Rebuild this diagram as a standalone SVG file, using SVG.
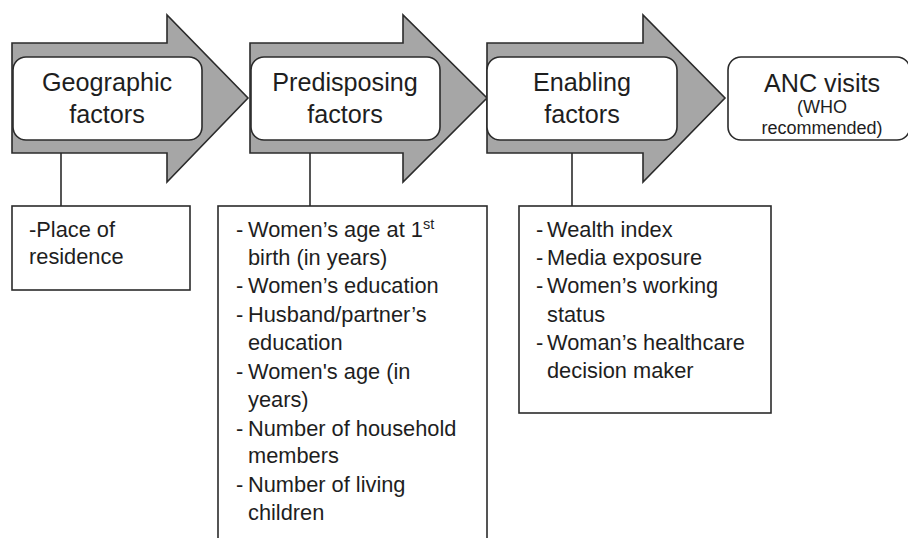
<svg xmlns="http://www.w3.org/2000/svg" width="908" height="538" viewBox="0 0 908 538">
  <style>
    .arrow { fill: #a6a6a6; stroke: #2b2b2b; stroke-width: 1.6; stroke-linejoin: miter; }
    .stage { fill: #ffffff; stroke: #2b2b2b; stroke-width: 1.6; }
    .list { fill: #ffffff; stroke: #2b2b2b; stroke-width: 1.6; }
    .link { stroke: #2b2b2b; stroke-width: 1.6; fill: none; }
    text { font-family: "Liberation Sans", Arial, sans-serif; fill: #1e1e1e; }
    .head { font-size: 25.2px; text-anchor: middle; }
    .small { font-size: 18px; text-anchor: middle; }
    .item { font-size: 21.8px; }
  </style>

  <!-- connectors from each stage to its list of variables -->
  <g id="connectors">
    <line class="link" x1="61" y1="153" x2="61" y2="206"/>
    <line class="link" x1="310" y1="153" x2="310" y2="206"/>
    <line class="link" x1="572" y1="153" x2="572" y2="206"/>
  </g>

  <g id="geographic">
    <polygon class="arrow" points="12,43 167,43 167,15 248,98 167,182 167,153 12,153"/>
    <rect class="stage" x="13" y="57" width="189" height="83" rx="13"/>
    <text class="head" x="107" y="91">Geographic</text>
    <text class="head" x="107" y="123">factors</text>
  </g>

  <g id="predisposing">
    <polygon class="arrow" points="250,43 403,43 403,15 487,98 403,182 403,153 250,153"/>
    <rect class="stage" x="251" y="57" width="189" height="83" rx="13"/>
    <text class="head" x="345" y="91">Predisposing</text>
    <text class="head" x="345" y="123">factors</text>
  </g>

  <g id="enabling">
    <polygon class="arrow" points="487,43 643,43 643,15 725,98 643,182 643,153 487,153"/>
    <rect class="stage" x="487" y="57" width="190" height="83" rx="13"/>
    <text class="head" x="582" y="91">Enabling</text>
    <text class="head" x="582" y="123">factors</text>
  </g>

  <g id="anc">
    <rect class="stage" x="728" y="57" width="182" height="83" rx="13"/>
    <text class="head" x="822" y="92">ANC visits</text>
    <text class="small" x="822" y="113">(WHO</text>
    <text class="small" x="822" y="134">recommended)</text>
  </g>

  <g id="geographic-vars">
    <rect class="list" x="12" y="206" width="178" height="84"/>
    <text class="item" x="29" y="237">-Place of</text>
    <text class="item" x="29" y="264">residence</text>
  </g>

  <g id="predisposing-vars">
    <rect class="list" x="218" y="206" width="269" height="345"/>
    <text class="item" x="236" y="237">-</text>
    <text class="item" x="248" y="237">Women’s age at 1<tspan font-size="14.5" dy="-8">st</tspan></text>
    <text class="item" x="248" y="265">birth (in years)</text>
    <text class="item" x="236" y="293">-</text>
    <text class="item" x="248" y="293">Women’s education</text>
    <text class="item" x="236" y="322">-</text>
    <text class="item" x="248" y="322">Husband/partner’s</text>
    <text class="item" x="248" y="350">education</text>
    <text class="item" x="236" y="379">-</text>
    <text class="item" x="248" y="379">Women's age (in</text>
    <text class="item" x="248" y="407">years)</text>
    <text class="item" x="236" y="436">-</text>
    <text class="item" x="248" y="436">Number of household</text>
    <text class="item" x="248" y="463">members</text>
    <text class="item" x="236" y="492">-</text>
    <text class="item" x="248" y="492">Number of living</text>
    <text class="item" x="248" y="520">children</text>
  </g>

  <g id="enabling-vars">
    <rect class="list" x="519" y="206" width="252" height="207"/>
    <text class="item" x="536" y="237">-</text>
    <text class="item" x="547" y="237">Wealth index</text>
    <text class="item" x="536" y="265">-</text>
    <text class="item" x="547" y="265">Media exposure</text>
    <text class="item" x="536" y="293">-</text>
    <text class="item" x="547" y="293">Women’s working</text>
    <text class="item" x="547" y="322">status</text>
    <text class="item" x="536" y="350">-</text>
    <text class="item" x="547" y="350">Woman’s healthcare</text>
    <text class="item" x="547" y="378">decision maker</text>
  </g>
</svg>
